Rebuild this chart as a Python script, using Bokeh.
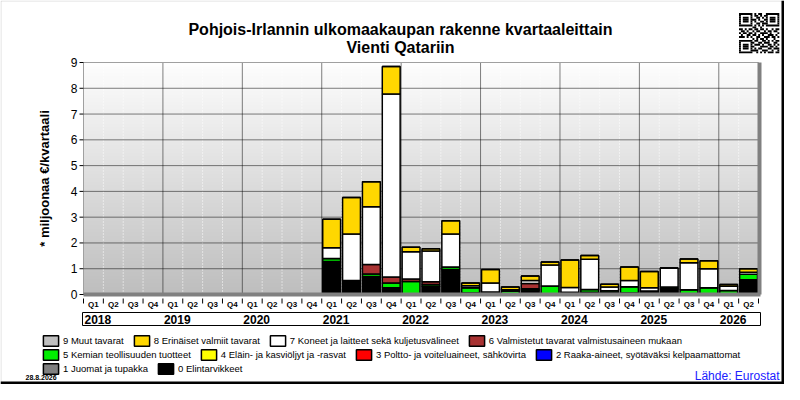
import math

import numpy as np

from bokeh.core.properties import value
from bokeh.embed import file_html
from bokeh.models import BoxAnnotation, ColumnDataSource, Label, Legend, LegendItem, Range1d
from bokeh.plotting import figure
from bokeh.resources import INLINE

# --- data (milj. EUR / quarter), 2018 Q1 .. 2026 Q2 ---
quarters = ["Q1", "Q2", "Q3", "Q4"] * 8 + ["Q1", "Q2"]
years = ["2018", "2019", "2020", "2021", "2022", "2023", "2024", "2025", "2026"]
y_ticks = [0, 1, 2, 3, 4, 5, 6, 7, 8, 9]

empty = [0.0] * 12  # 2018-2020: no exports
elintarvikkeet = empty + [1.28, 0.54, 0.70, 0.26, 0.00, 0.32, 0.97, 0.06, 0.00, 0.00, 0.17,
                          0.00, 0.03, 0.04, 0.08, 0.06, 0.08, 0.22, 0.00, 0.00, 0.00, 0.57]
juomat = [0.0] * 34
raaka_aineet = [0.0] * 34
poltto_aineet = empty + [0.00, 0.00, 0.00, 0.00, 0.00, 0.00, 0.00, 0.00, 0.00, 0.00, 0.00,
                         0.00, 0.00, 0.05, 0.00, 0.00, 0.00, 0.00, 0.00, 0.00, 0.00, 0.00]
oljyt = [0.0] * 34
kemia = empty + [0.12, 0.00, 0.10, 0.19, 0.50, 0.07, 0.10, 0.20, 0.10, 0.14, 0.05,
                 0.33, 0.06, 0.10, 0.07, 0.24, 0.06, 0.07, 0.18, 0.26, 0.16, 0.22]
valmistetut = empty + [0.00, 0.00, 0.36, 0.23, 0.10, 0.10, 0.00, 0.00, 0.00, 0.00, 0.21,
                       0.00, 0.00, 0.00, 0.00, 0.00, 0.00, 0.00, 0.00, 0.00, 0.00, 0.00]
koneet = empty + [0.41, 1.81, 2.24, 7.10, 1.06, 1.20, 1.28, 0.08, 0.35, 0.04, 0.11,
                  0.81, 0.18, 1.18, 0.14, 0.24, 0.12, 0.74, 1.05, 0.74, 0.16, 0.07]
erinaiset = empty + [1.11, 1.41, 0.97, 1.06, 0.17, 0.08, 0.51, 0.11, 0.52, 0.11, 0.18,
                     0.12, 1.07, 0.14, 0.11, 0.53, 0.63, 0.00, 0.15, 0.31, 0.07, 0.14]
muut = [0.0] * 34

labels = ["0 Elintarvikkeet", "1 Juomat ja tupakka", "2 Raaka-aineet, syötäväksi kelpaamattomat",
          "3 Poltto- ja voiteluaineet, sähkövirta", "4 Eläin- ja kasviöljyt ja -rasvat",
          "5 Kemian teollisuuden tuotteet", "6 Valmistetut tavarat valmistusaineen mukaan",
          "7 Koneet ja laitteet sekä kuljetusvälineet", "8 Erinäiset valmiit tavarat",
          "9 Muut tavarat"]
colors = ["#000000", "#808080", "#0000ff", "#ff0000", "#ffff00",
          "#00ee00", "#a83232", "#ffffff", "#ffd700", "#c0c0c0"]

keys = ["c%d" % i for i in range(10)]
n = len(quarters)
src = ColumnDataSource(dict(
    x=list(range(n)),
    c0=elintarvikkeet, c1=juomat, c2=raaka_aineet, c3=poltto_aineet, c4=oljyt,
    c5=kemia, c6=valmistetut, c7=koneet, c8=erinaiset, c9=muut,
))

FONT = "Liberation Sans"

# canvas layout (px); the frame covers the whole canvas so nothing gets clipped
W, H = 784, 384
PL, PR, PT, PB = 83, 758, 62, 294
YMAX = 9
qx = (PR - PL) / n          # px per quarter
qy = (PB - PT) / YMAX       # px per unit


def px_y(cy):
    return (PB - cy) / qy


p = figure(
    width=W, height=H,
    x_range=Range1d(-0.5 - PL / qx, n - 0.5 + (W - PR) / qx),
    y_range=Range1d(-(H - PB) / qy, PB / qy),
    x_axis_type=None, y_axis_type=None,
    output_backend="svg", toolbar_location=None, min_border=0,
)
p.outline_line_color = None
p.background_fill_color = "white"
p.border_fill_color = "white"

# gradient plot background (white at top -> grey at bottom)
shade = np.linspace(190, 254, 64).astype(np.uint8)
img = np.empty((64, 1), dtype=np.uint32)
view = img.view(dtype=np.uint8).reshape((64, 1, 4))
view[:, 0, 0] = shade
view[:, 0, 1] = shade
view[:, 0, 2] = shade
view[:, 0, 3] = 255
p.image_rgba(image=[img], x=-0.5, y=0, dw=n, dh=YMAX)

# grid lines
year_bounds = [4 * k - 0.5 for k in range(1, 9)]
q_bounds = [i - 0.5 for i in range(1, n) if (i - 0.5) not in year_bounds]
p.segment(x0=q_bounds, x1=q_bounds, y0=0, y1=YMAX, line_color="white", line_dash="1 2")
p.segment(x0=year_bounds, x1=year_bounds, y0=0, y1=YMAX, line_color="black", line_dash="1 1")
p.segment(x0=-0.5, x1=n - 0.5, y0=y_ticks[1:-1], y1=y_ticks[1:-1],
          line_color="black", line_dash="1 1")

# stacked bars
rs = p.vbar_stack(keys, x="x", width=0.9, source=src, fill_color=colors,
                  line_color="black", line_width=1.5)

# frame edges
p.quad(left=-0.5, right=n - 0.5, bottom=0, top=YMAX, fill_alpha=0, line_color="#a0a0a0")
p.segment(x0=-0.5, x1=n - 0.5 + 2 / qx, y0=0, y1=0, line_color="#808080", line_width=4)
p.segment(x0=n - 0.5 + 1 / qx, x1=n - 0.5 + 1 / qx, y0=0, y1=YMAX,
          line_color="#808080", line_width=4)

# y axis: ticks, labels, title
p.segment(x0=-0.5 - 4 / qx, x1=-0.5, y0=y_ticks, y1=y_ticks, line_color="black")
p.text(x=-0.5 - 6 / qx, y=y_ticks, text=[str(t) for t in y_ticks],
       text_font=value(FONT), text_font_size="12px", text_align="right",
       text_baseline="middle", text_color="black")
p.text(x=-0.5 - 39 / qx, y=YMAX / 2, text=["* miljoonaa €/kvartaali"], angle=math.pi / 2,
       text_font=value(FONT), text_font_size="13px", text_font_style="bold",
       text_align="center", text_baseline="middle", text_color="black")

# quarter axis
edges = [i - 0.5 for i in range(n + 1)]
p.segment(x0=edges, x1=edges, y0=px_y(PB + 4), y1=px_y(PB + 9), line_color="black")
p.text(x=list(range(n)), y=px_y(PB + 9.5), text=quarters, text_font=value(FONT),
       text_font_size="8px", text_font_style="bold", text_align="center",
       text_baseline="middle", text_color="black")

# year band
p.quad(left=-0.5 - 1 / qx, right=n - 0.5 + 2 / qx, top=px_y(312), bottom=px_y(325),
       fill_alpha=0, line_color="black")
p.text(x=[4 * k - 0.5 for k in range(len(years))], y=px_y(319), text=years, x_offset=1,
       text_font=value(FONT), text_font_size="12px", text_font_style="bold",
       text_align="left", text_baseline="middle", text_color="black")

# titles (screen units: x from left, y from bottom)
for txt, cy in [("Pohjois-Irlannin ulkomaakaupan rakenne kvartaaleittain", 29),
                ("Vienti Qatariin", 47)]:
    p.add_layout(Label(x=400, y=H - cy, x_units="screen", y_units="screen", text=txt,
                       text_font=FONT, text_font_size="16px", text_font_style="bold",
                       text_align="center", text_baseline="middle", text_color="black"))

# legend rows
rows = [[9, 8, 7, 6], [5, 4, 3, 2], [1, 0]]
for row, cy in zip(rows, [340, 354.5, 368]):
    leg = Legend(items=[LegendItem(label=labels[i], renderers=[rs[i]]) for i in row],
                 orientation="horizontal", location=(41, H - cy - 6.5), margin=0, padding=0,
                 spacing=8, glyph_width=19, glyph_height=13, label_height=13,
                 label_standoff=3, label_text_font=FONT, label_text_font_size="9.5px",
                 label_text_color="black", border_line_alpha=0, background_fill_alpha=0)
    p.add_layout(leg)

# footer
p.add_layout(Label(x=25, y=H - 377, x_units="screen", y_units="screen", text="28.8.2026",
                   text_font=FONT, text_font_size="7px", text_font_style="bold",
                   text_baseline="middle", text_color="black"))
p.add_layout(Label(x=779, y=H - 375, x_units="screen", y_units="screen",
                   text="Lähde: Eurostat", text_font=FONT, text_font_size="12px",
                   text_align="right", text_baseline="middle", text_color="#2020ff"))

# QR-code decoration, top right
qr = ["111111101011001111111", "100000101101011000001", "101110100110101011101",
      "101110111010011011101", "101110101001101011101", "100000100110111000001",
      "111111101010101111111", "000000011001000000000", "110101101101101001011",
      "011010010110010110110", "101101101001111010001", "010011011010100111010",
      "111010100110011101101", "000000010101101000100", "111111101100110101011",
      "100000110011011100110", "101110101110100110101", "101110110001111011010",
      "101110101011000110111", "100000111100111001001", "111111100101010111011"]
m = 1.92
ox, oy = 738.5, H - 12.5
for r, line in enumerate(qr):
    c = 0
    while c < len(line):
        if line[c] == "1":
            s = c
            while c < len(line) and line[c] == "1":
                c += 1
            p.add_layout(BoxAnnotation(left=ox + s * m, right=ox + c * m,
                                       top=oy - r * m, bottom=oy - (r + 1) * m,
                                       left_units="screen", right_units="screen",
                                       top_units="screen", bottom_units="screen",
                                       fill_color="black", fill_alpha=1, line_alpha=0))
        else:
            c += 1

# outer frame with shadow
scr = dict(left_units="screen", right_units="screen", top_units="screen", bottom_units="screen")
p.add_layout(BoxAnnotation(left=0.5, right=W - 0.5, top=H - 0.5, bottom=0.5,
                           fill_alpha=0, line_color="#909090", line_width=1, **scr))
p.add_layout(BoxAnnotation(left=W - 3, right=W, top=H, bottom=0,
                           fill_color="black", fill_alpha=1, line_alpha=0, **scr))
p.add_layout(BoxAnnotation(left=0, right=W, top=3, bottom=0,
                           fill_color="black", fill_alpha=1, line_alpha=0, **scr))

open("out.html", "w").write(file_html(p, INLINE))
